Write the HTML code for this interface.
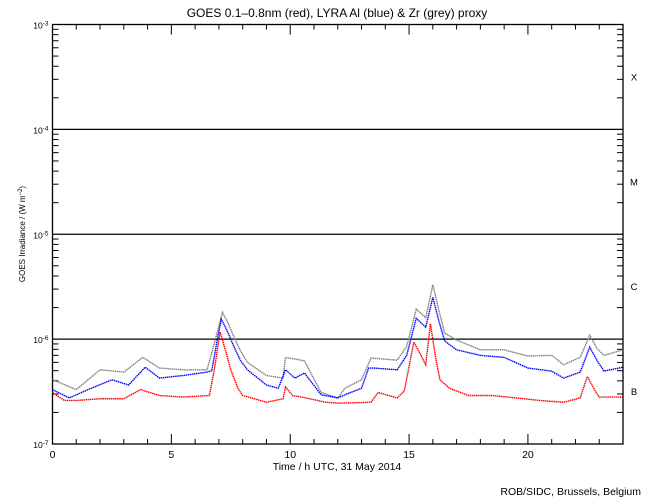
<!DOCTYPE html>
<html><head><meta charset="utf-8"><style>
body{margin:0;background:#fff;}
svg{display:block;font-family:"Liberation Sans",sans-serif;}
</style></head><body>
<svg id="chart" width="650" height="500">
<text x="337" y="17" text-anchor="middle" font-size="12">GOES 0.1–0.8nm (red), LYRA Al (blue) &amp; Zr (grey) proxy</text>
<text x="337" y="470" text-anchor="middle" font-size="10.5">Time / h UTC, 31 May 2014</text>
<text x="641" y="495" text-anchor="end" font-size="10.5">ROB/SIDC, Brussels, Belgium</text>
<text transform="translate(25,234) rotate(-90)" text-anchor="middle" font-size="8">GOES Irradiance / (W m<tspan baseline-shift="super" font-size="6">−2</tspan>)</text>
<g id="axes"></g>
<g id="series"></g>
</svg>
<script>
const hoursRed=[0,0.5,1,2,3,3.7,4.5,5.5,6.6,6.8,7.05,7.3,7.5,7.8,8,9,9.7,9.8,10.1,10.5,11.5,12,13.4,13.7,14.5,14.8,15.2,15.5,15.7,15.9,16.1,16.3,16.7,17.5,18.5,19.5,20.5,21.5,22.2,22.5,22.8,23,24];
const goesRed=[3.1e-7,2.6e-7,2.6e-7,2.7e-7,2.7e-7,3.3e-7,2.9e-7,2.8e-7,2.9e-7,5e-7,1.17e-6,7.5e-7,5.1e-7,3.4e-7,2.9e-7,2.5e-7,2.7e-7,3.5e-7,2.9e-7,2.8e-7,2.5e-7,2.45e-7,2.5e-7,3.1e-7,2.75e-7,3.2e-7,9.4e-7,7e-7,5.7e-7,1.4e-6,7e-7,4.1e-7,3.4e-7,2.9e-7,2.9e-7,2.75e-7,2.6e-7,2.5e-7,2.75e-7,4.4e-7,3.3e-7,2.8e-7,2.8e-7];
const hoursBlue=[0,0.7,1.5,2.5,3.2,3.9,4.5,5.5,6.5,6.7,6.9,7.1,7.35,7.6,7.9,8.2,9,9.5,9.8,10.2,10.6,11.3,12,12.3,13,13.3,13.5,14.5,14.9,15.3,15.7,16,16.25,16.5,17,18,19,20,21,21.5,22.2,22.6,22.9,23.2,24];
const lyraBlue=[3.3e-7,2.75e-7,3.3e-7,4.1e-7,3.65e-7,5.4e-7,4.25e-7,4.5e-7,4.85e-7,5e-7,9e-7,1.55e-6,1.2e-6,8.8e-7,6.3e-7,5.1e-7,3.65e-7,3.4e-7,5.1e-7,4.25e-7,4.75e-7,2.95e-7,2.75e-7,2.95e-7,3.4e-7,5.3e-7,5.3e-7,5.1e-7,7e-7,1.58e-6,1.3e-6,2.5e-6,1.5e-6,9.6e-7,7.9e-7,7e-7,6.7e-7,5.3e-7,4.95e-7,4.25e-7,4.85e-7,8.4e-7,6.3e-7,4.95e-7,5.4e-7];
const hoursGrey=[0,1,2,3,3.8,4.5,5.5,6.5,6.8,7.15,7.4,7.6,7.9,8.2,9,9.7,9.8,10.6,11.3,12,12.3,13,13.4,14.5,14.9,15.3,15.7,16,16.25,16.5,17,18,19,20,21,21.5,22.2,22.6,22.9,23.2,24];
const zrGrey=[4.1e-7,3.3e-7,5.1e-7,4.85e-7,6.7e-7,5.3e-7,5.1e-7,5.1e-7,9e-7,1.8e-6,1.4e-6,1.09e-6,7.8e-7,6e-7,4.5e-7,4.25e-7,6.7e-7,6.2e-7,3.1e-7,2.75e-7,3.4e-7,4.1e-7,6.6e-7,6.3e-7,8.5e-7,1.93e-6,1.6e-6,3.3e-6,1.9e-6,1.14e-6,9.8e-7,7.9e-7,7.9e-7,6.9e-7,7e-7,5.7e-7,6.7e-7,1.09e-6,8.2e-7,7e-7,7.9e-7];
const xTicks=[0,5,10,15,20];
const flareLevels=[["X",1e-4],["M",1e-5],["C",1e-6],["B",1e-7]];

const X0=52.5,X1=623,YT=24.5,YB=444;
const xs=h=>X0+(X1-X0)*h/24;
const ys=v=>YB-(Math.log10(v)+7)*(YB-YT)/4;
const NS="http://www.w3.org/2000/svg";
function mk(tag,attrs,parent){const e=document.createElementNS(NS,tag);for(const k in attrs)e.setAttribute(k,attrs[k]);parent.appendChild(e);return e;}
const ax=document.getElementById('axes');
const frame=mk('rect',{x:X0,y:YT,width:X1-X0,height:YB-YT,fill:'none',stroke:'#000','stroke-width':1.3},ax);


for(let d=-7;d<=-3;d++){
  const y=ys(Math.pow(10,d));
  const lab=mk('text',{x:X0-4,y:y+4,'text-anchor':'end','font-size':'8.5'},ax);
  lab.innerHTML='10<tspan baseline-shift="super" font-size="6.5">'+d+'</tspan>';
  
  
  if(d>-7&&d<-3){const g=mk('line',{x1:X0,x2:X1,y1:y,y2:y,stroke:'#000','stroke-width':1.3},ax);
    
    }
  if(d<-3)for(let m=2;m<=9;m++){const yy=ys(m*Math.pow(10,d));
    mk('line',{x1:X0,x2:X0+6,y1:yy,y2:yy,stroke:'#000'},ax);
    mk('line',{x1:X1,x2:X1-6,y1:yy,y2:yy,stroke:'#000'},ax);}
}
for(let h=1;h<24;h++){const x=xs(h);const L=h%5==0?10:5;
  mk('line',{x1:x,x2:x,y1:YB,y2:YB-L,stroke:'#000'},ax);
  mk('line',{x1:x,x2:x,y1:YT,y2:YT+L,stroke:'#000'},ax);}
xTicks.forEach(h=>{const t=mk('text',{x:xs(h),y:YB+14,'text-anchor':'middle','font-size':'10.5'},ax);t.textContent=h;
  
  });
flareLevels.forEach(([c,v])=>{const t=mk('text',{x:634,y:ys(v*3.2)+4,'text-anchor':'middle','font-size':'9.5'},ax);t.textContent=c;
  
  });
const sg=document.getElementById('series');
function drawSeries(hs,vs,col,name){
  const p=mk('polyline',{points:hs.map((h,i)=>xs(h)+','+ys(vs[i])).join(' '),fill:'none',stroke:col,'stroke-width':1.4,'stroke-dasharray':'1.5 0.6'},sg);
  
  
}
drawSeries(hoursGrey,zrGrey,'#808080','zr-grey-series');
drawSeries(hoursBlue,lyraBlue,'#0000ff','lyra-al-blue-series');
drawSeries(hoursRed,goesRed,'#ff0000','goes-red-series');
</script>
</body></html>
